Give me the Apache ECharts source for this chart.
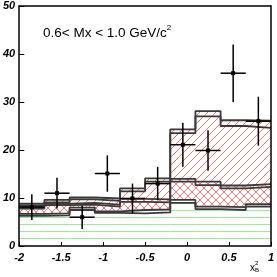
<!DOCTYPE html>
<html><head><meta charset="utf-8">
<script src="https://cdn.jsdelivr.net/npm/echarts@6/dist/echarts.min.js"></script>
<style>html,body{margin:0;padding:0;background:#fff}#c{width:277px;height:277px}</style>
</head><body><div id="c"></div>
<script>
// bin edges of the histograms (x_B^2)
const binEdges = [-2, -1.7, -1.4, -1.1, -0.8, -0.5, -0.2, 0.1, 0.4, 0.7, 1.0];
// total (top) band
const topHi = [8.8, 9.6, 10.1, 9.9, 12.0, 14.1, 24.3, 28.1, 26.2, 26.1];
const topLo = [8.4, 9.1, 9.7, 9.4, 11.4, 13.4, 23.5, 27.0, 25.0, 24.6];
// middle band
const midHi = [8.2, 8.8, 9.0, 8.6, 9.8, 9.7, 14.0, 13.4, 12.6, 12.9];
const midLo = [7.8, 8.5, 8.6, 8.2, 9.2, 9.1, 13.4, 12.7, 12.0, 12.3];
// bottom band
const botHi = [6.7, 6.8, 8.0, 7.2, 7.5, 7.6, 9.6, 8.2, 8.1, 8.7];
const botLo = [6.3, 6.4, 7.5, 6.9, 6.8, 7.0, 9.0, 7.7, 7.5, 8.2];
// data points
const pointX = [-1.85, -1.55, -1.25, -0.95, -0.65, -0.35, -0.05, 0.25, 0.55, 0.85];
const pointY = [8.1, 11.0, 6.0, 15.1, 9.9, 13.0, 21.1, 19.9, 36.0, 26.0];
const pointErr = [2.7, 3.2, 2.45, 3.8, 3.1, 3.5, 4.6, 4.2, 6.0, 5.1];
const binHalf = 0.15;

function stepData(vals) {
  return binEdges.map((e, i) => [e, vals[Math.min(i, vals.length - 1)]]);
}
const hatchRed = 'rgb(250,120,120)';
const hatchGreen = 'rgb(160,230,160)';

// hatch lines inside a pixel rect; dir: 1 = "/", -1 = "\", 0 = horizontal
function hatchLines(x0, x1, yT, yB, dir, gap, color, out) {
  if (yB - yT < 0.5) return;
  const st = { stroke: color, lineWidth: 1 };
  if (dir === 0) {
    for (let y = Math.floor(yB / gap) * gap + 0.5; y > yT; y -= gap) {
      if (y <= yB) out.push({ type: 'line', shape: { x1: x0, y1: y, x2: x1, y2: y }, style: st });
    }
    return;
  }
  // "/" : x + y = c ; "\" : x - y = c
  const cMin = dir === 1 ? x0 + yT : x0 - yB;
  const cMax = dir === 1 ? x1 + yB : x1 - yT;
  for (let c = Math.ceil(cMin / gap) * gap; c <= cMax; c += gap) {
    let xa, xb;
    if (dir === 1) { xa = Math.max(x0, c - yB); xb = Math.min(x1, c - yT); }
    else { xa = Math.max(x0, c + yT); xb = Math.min(x1, c + yB); }
    if (xb - xa <= 0) continue;
    const ya = dir === 1 ? c - xa : xa - c;
    const yb = dir === 1 ? c - xb : xb - c;
    out.push({ type: 'line', shape: { x1: xa, y1: ya, x2: xb, y2: yb }, style: st });
  }
}

const fillSeries = {
  type: 'custom', z: 2, silent: true,
  data: topHi.map((v, i) => [binEdges[i], binEdges[i + 1], topHi[i], midHi[i], botHi[i], botLo[i]]),
  renderItem: function (params, api) {
    const x0 = api.coord([api.value(0), 0])[0];
    const x1 = api.coord([api.value(1), 0])[0];
    const yTop = api.coord([0, api.value(2)])[1];
    const yMid = api.coord([0, api.value(3)])[1];
    const yBotHi = api.coord([0, api.value(4)])[1];
    const yBotLo = api.coord([0, api.value(5)])[1];
    const y0 = api.coord([0, 0])[1];
    const out = [];
    hatchLines(x0, x1, yTop, yMid, 1, 8, hatchRed, out);
    hatchLines(x0, x1, yMid, yBotHi, 1, 8, hatchRed, out);
    hatchLines(x0, x1, yMid, yBotHi, -1, 8, hatchRed, out);
    hatchLines(x0, x1, yBotLo, y0 - 1, 0, 7, hatchGreen, out);
    return { type: 'group', children: out };
  }
};
function edge(vals) {
  return { type: 'line', step: 'end', data: stepData(vals), showSymbol: false, silent: true,
    lineStyle: { width: 1.8, color: '#3a3a3a' }, z: 5 };
}

const tickFont = { fontFamily: 'Liberation Sans', fontWeight: 'bold', fontStyle: 'italic', fontSize: 11, color: '#000' };
const chart = echarts.init(document.getElementById('c'), null, { renderer: 'canvas' });
chart.setOption({
  animation: false,
  backgroundColor: '#fff',
  grid: { left: 19, right: 3, top: 6, bottom: 31 },
  xAxis: [{
    type: 'value', min: -2, max: 1, interval: 0.5, z: 10,
    axisLine: { onZero: false, lineStyle: { color: '#000', width: 1.5 } },
    axisTick: { inside: true, length: 4, lineStyle: { color: '#000' } },
    axisLabel: Object.assign({ margin: 6 }, tickFont),
    splitLine: { show: false }
  }, {
    type: 'value', min: -2, max: 1, position: 'top', z: 10,
    axisLine: { show: true, onZero: false, lineStyle: { color: '#000', width: 1.5 } },
    axisTick: { show: false }, axisLabel: { show: false }, splitLine: { show: false }
  }],
  yAxis: [{
    type: 'value', min: 0, max: 50, interval: 10, z: 10,
    axisLine: { show: true, onZero: false, lineStyle: { color: '#000', width: 1.5 } },
    axisTick: { show: true, inside: true, length: 5, lineStyle: { color: '#000' } },
    axisLabel: Object.assign({ margin: 4 }, tickFont),
    splitLine: { show: false }
  }, {
    type: 'value', min: 0, max: 50, position: 'right', z: 10,
    axisLine: { show: true, onZero: false, lineStyle: { color: '#000', width: 1.5 } },
    axisTick: { show: false }, axisLabel: { show: false }, splitLine: { show: false }
  }],
  series: [
    fillSeries,
    edge(topHi), edge(topLo), edge(midHi), edge(midLo), edge(botHi), edge(botLo),
    {
      type: 'custom', z: 6, silent: true,
      data: pointX.map((x, i) => [x, pointY[i], pointErr[i]]),
      renderItem: function (params, api) {
        const x = api.value(0), y = api.value(1), e = api.value(2);
        const c = api.coord([x, y]), t = api.coord([x, y + e]), b = api.coord([x, y - e]);
        const l = api.coord([x - binHalf, y]), r = api.coord([x + binHalf, y]);
        const st = { stroke: '#000', lineWidth: 1.5 };
        return { type: 'group', children: [
          { type: 'line', shape: { x1: t[0], y1: t[1], x2: b[0], y2: b[1] }, style: st },
          { type: 'line', shape: { x1: l[0], y1: l[1], x2: r[0], y2: r[1] }, style: st },
          { type: 'rect', shape: { x: c[0] - 2, y: c[1] - 2, width: 4, height: 4 }, style: { fill: '#000' } }
        ] };
      }
    }
  ],
  graphic: [
    { type: 'text', left: 43, top: 24, z: 20,
      style: { text: '{a|0.6< Mx < 1.0 GeV/c}{s|2}', fill: '#000',
        rich: { a: { fontFamily: 'Liberation Sans', fontSize: 13.5, verticalAlign: 'bottom', lineHeight: 16 },
                s: { fontFamily: 'Liberation Sans', fontSize: 8, verticalAlign: 'top', lineHeight: 16 } } } },
    { type: 'text', left: 250, top: 263, z: 20,
      style: { text: 'x', fontFamily: 'Liberation Sans', fontSize: 10, fill: '#000' } },
    { type: 'text', left: 255, top: 267, z: 20,
      style: { text: 'B', fontFamily: 'Liberation Sans', fontSize: 6, fill: '#000' } },
    { type: 'text', left: 255, top: 260, z: 20,
      style: { text: '2', fontFamily: 'Liberation Sans', fontSize: 6, fill: '#000' } }
  ]
});
</script>
</body></html>
